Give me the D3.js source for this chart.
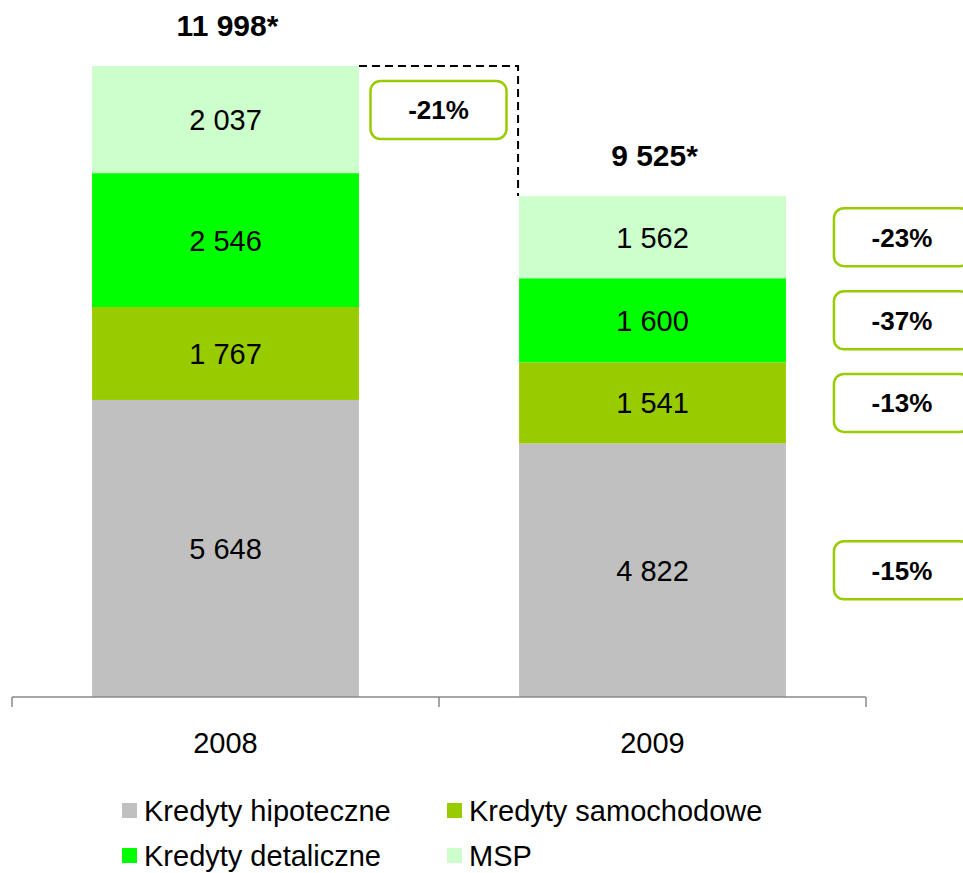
<!DOCTYPE html>
<html>
<head>
<meta charset="utf-8">
<script src="https://cdn.jsdelivr.net/npm/d3@7"></script>
<style>
  html, body { margin: 0; padding: 0; background: #fff; }
  svg { display: block; font-family: 'Liberation Sans', Arial, sans-serif; }
</style>
</head>
<body>
<svg class="chart" width="963" height="873"></svg>
<script>
const years = ['2008', '2009']
const seriesNames = ['Kredyty hipoteczne', 'Kredyty samochodowe', 'Kredyty detaliczne', 'MSP']
const hipoteczne = [5648, 4822]
const samochodowe = [1767, 1541]
const detaliczne = [2546, 1600]
const msp = [2037, 1562]
const seriesChange = ['-15%', '-13%', '-37%', '-23%']
const totalChange = '-21%'

const colors = ['#c0c0c0', '#99cc00', '#00ff00', '#ccffcc']

const rows = years.map((yr, i) => ({
  year: yr,
  [seriesNames[0]]: hipoteczne[i],
  [seriesNames[1]]: samochodowe[i],
  [seriesNames[2]]: detaliczne[i],
  [seriesNames[3]]: msp[i]
}))
const totals = rows.map(r => d3.sum(seriesNames, k => r[k]))

const fmt = d3.formatLocale({ decimal: ',', thousands: ' ', grouping: [3], currency: ['', ''] }).format(',d')

const svg = d3.select('.chart')
const plotLeft = 12, plotRight = 866, plotBase = 697, plotTop = 66

// slots for the category axis, bars sit inside each slot
const slot = d3.scaleBand().domain(years).range([plotLeft, plotRight]).padding(0)
const x = d3.scaleBand().domain(years).range([plotLeft, plotRight]).paddingInner(0.375).paddingOuter(0.1875)
const y = d3.scaleLinear().domain([0, d3.max(totals)]).range([plotBase, plotTop])

const stack = d3.stack().keys(seriesNames)(rows)

const layers = svg.append('g').selectAll('g')
  .data(stack)
  .enter().append('g')
  .attr('fill', (d, i) => colors[i])

layers.selectAll('rect')
  .data(d => d)
  .enter().append('rect')
  .attr('x', d => x(d.data.year))
  .attr('y', d => y(d[1]))
  .attr('width', x.bandwidth())
  .attr('height', d => y(d[0]) - y(d[1]))

layers.selectAll('text')
  .data(d => d)
  .enter().append('text')
  .attr('x', d => x(d.data.year) + x.bandwidth() / 2)
  .attr('y', d => (y(d[0]) + y(d[1])) / 2)
  .attr('dy', '0.36em')
  .attr('text-anchor', 'middle')
  .attr('fill', '#000')
  .style('font-size', '29px')
  .text(d => fmt(d[1] - d[0]))

// totals
svg.append('g').selectAll('text')
  .data(years)
  .enter().append('text')
  .attr('x', d => x(d) + x.bandwidth() / 2 + 2)
  .attr('y', (d, i) => y(totals[i]) - 30)
  .attr('text-anchor', 'middle')
  .style('font-size', '30px')
  .style('font-weight', 'bold')
  .text((d, i) => fmt(totals[i]) + '*')

// axis
const axis = svg.append('g').attr('transform', 'translate(0,' + plotBase + ')')
axis.append('line')
  .attr('x1', plotLeft).attr('x2', plotRight)
  .attr('stroke', '#888').attr('stroke-width', 1.5)
axis.selectAll('.tick')
  .data(years.map(d => slot(d)).concat([plotRight]))
  .enter().append('line')
  .attr('class', 'tick')
  .attr('x1', d => d).attr('x2', d => d)
  .attr('y1', 0).attr('y2', 10)
  .attr('stroke', '#888').attr('stroke-width', 1.5)
axis.selectAll('.lbl')
  .data(years)
  .enter().append('text')
  .attr('class', 'lbl')
  .attr('x', d => slot(d) + slot.bandwidth() / 2)
  .attr('y', 56)
  .attr('text-anchor', 'middle')
  .style('font-size', '29px')
  .text(d => d)

// dashed connector between totals
const x0 = x(years[0]) + x.bandwidth(), x1 = x(years[1]) - 1
svg.append('path')
  .attr('d', 'M' + x0 + ',' + y(totals[0]) + 'H' + x1 + 'V' + y(totals[1]))
  .attr('fill', 'none')
  .attr('stroke', '#000')
  .attr('stroke-width', 2)
  .attr('stroke-dasharray', '8,5')

// change callouts
const boxW = 136, boxH = 58
const callout = (cx, cy, label) => {
  const g = svg.append('g').attr('transform', 'translate(' + cx + ',' + cy + ')')
  g.append('rect')
    .attr('x', -boxW / 2).attr('y', -boxH / 2)
    .attr('width', boxW).attr('height', boxH)
    .attr('rx', 10).attr('ry', 10)
    .attr('fill', '#fff')
    .attr('stroke', '#99cc00')
    .attr('stroke-width', 2.5)
  g.append('text')
    .attr('dy', '0.36em')
    .attr('text-anchor', 'middle')
    .style('font-size', '26px')
    .style('font-weight', 'bold')
    .text(label)
}

callout((x0 + x1) / 2, y(totals[0]) + 44, totalChange)
const last = stack.map(s => s[1])
const boxX = x(years[1]) + x.bandwidth() + 116
last.forEach((d, i) => {
  callout(boxX, (y(d[0]) + y(d[1])) / 2, seriesChange[i])
})

// legend
const legendItems = [
  { name: seriesNames[0], color: colors[0], lx: 122, ly: 821 },
  { name: seriesNames[1], color: colors[1], lx: 447, ly: 821 },
  { name: seriesNames[2], color: colors[2], lx: 122, ly: 866 },
  { name: seriesNames[3], color: colors[3], lx: 447, ly: 866 }
]
const lg = svg.append('g').selectAll('g')
  .data(legendItems)
  .enter().append('g')
  .attr('transform', d => 'translate(' + d.lx + ',' + d.ly + ')')
lg.append('rect')
  .attr('x', 0).attr('y', -18)
  .attr('width', 15).attr('height', 15)
  .attr('fill', d => d.color)
lg.append('text')
  .attr('x', 22)
  .style('font-size', '29px')
  .text(d => d.name)
</script>
</body>
</html>
